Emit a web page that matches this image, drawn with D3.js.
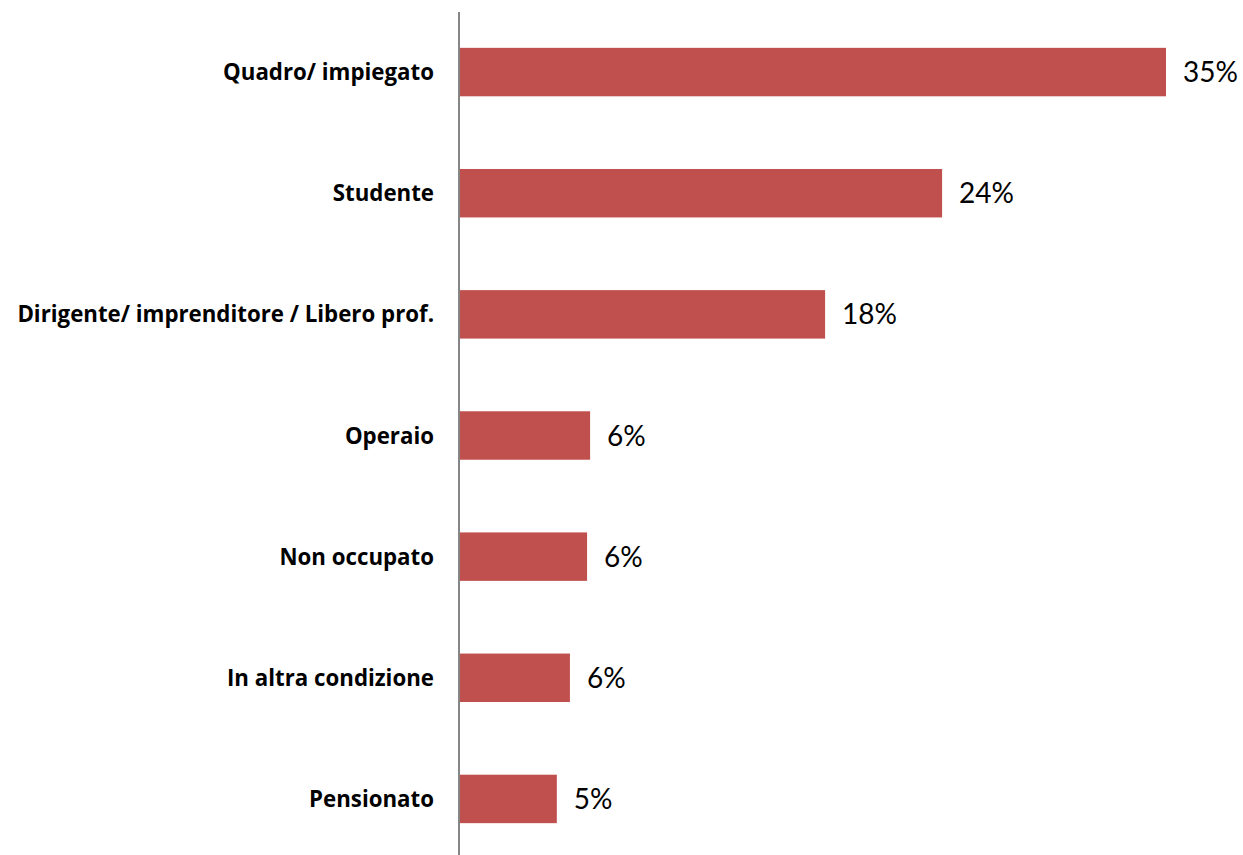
<!DOCTYPE html>
<html><head><meta charset="utf-8">
<script src="https://cdn.jsdelivr.net/npm/d3@7"></script>
<style>body{margin:0;background:#fff}</style>
</head><body>
<svg id="c" width="1243" height="855"></svg>
<script>
const categories = ["Quadro/ impiegato","Studente","Dirigente/ imprenditore / Libero prof.","Operaio","Non occupato","In altra condizione","Pensionato"];
const values = [35.0, 23.9, 18.1, 6.45, 6.3, 5.45, 4.8];
const valueLabels = ["35%","24%","18%","6%","6%","6%","5%"];

const svg = d3.select("#c");
const x0 = 460;
const x = d3.scaleLinear().domain([0, 35]).range([x0, 1166]);
const y = d3.scaleBand().domain(categories).range([11.5, 859.5]).paddingInner(0.6).paddingOuter(0.3);

svg.selectAll("rect.bar").data(categories).join("rect")
  .attr("class","bar")
  .attr("x", x(0))
  .attr("y", d => y(d))
  .attr("width", (d,i) => x(values[i]) - x(0))
  .attr("height", y.bandwidth())
  .attr("fill", "#C0504D");

svg.append("line").attr("x1", x0-1).attr("x2", x0-1).attr("y1", 12).attr("y2", 855)
  .attr("stroke", "#868686").attr("stroke-width", 2);

const cats = svg.selectAll("text.cat").data(categories).join("text")
  .attr("class","cat")
  .attr("x", 434)
  .attr("y", d => y(d) + y.bandwidth()/2)
  .attr("dy", "0.36em")
  .attr("text-anchor","end")
  .attr("font-family","'Open Sans', sans-serif")
  .attr("font-weight","bold")
  .attr("font-size", 20)
  .attr("fill","#000")
  .text(d => d);
// fit longest label to the reference width (417px)
const w = cats.filter((d,i)=>i===2).node().getComputedTextLength();
cats.attr("font-size", 20 * 417 / w);

svg.selectAll("text.val").data(categories).join("text")
  .attr("class","val")
  .attr("x", (d,i) => x(values[i]) + 17)
  .attr("y", d => y(d) + y.bandwidth()/2)
  .attr("dy", "0.36em")
  .attr("font-family","Lato, 'Open Sans', sans-serif")
  .attr("font-size", 28)
  .attr("fill","#000")
  .text((d,i) => valueLabels[i]);
</script>
</body></html>
